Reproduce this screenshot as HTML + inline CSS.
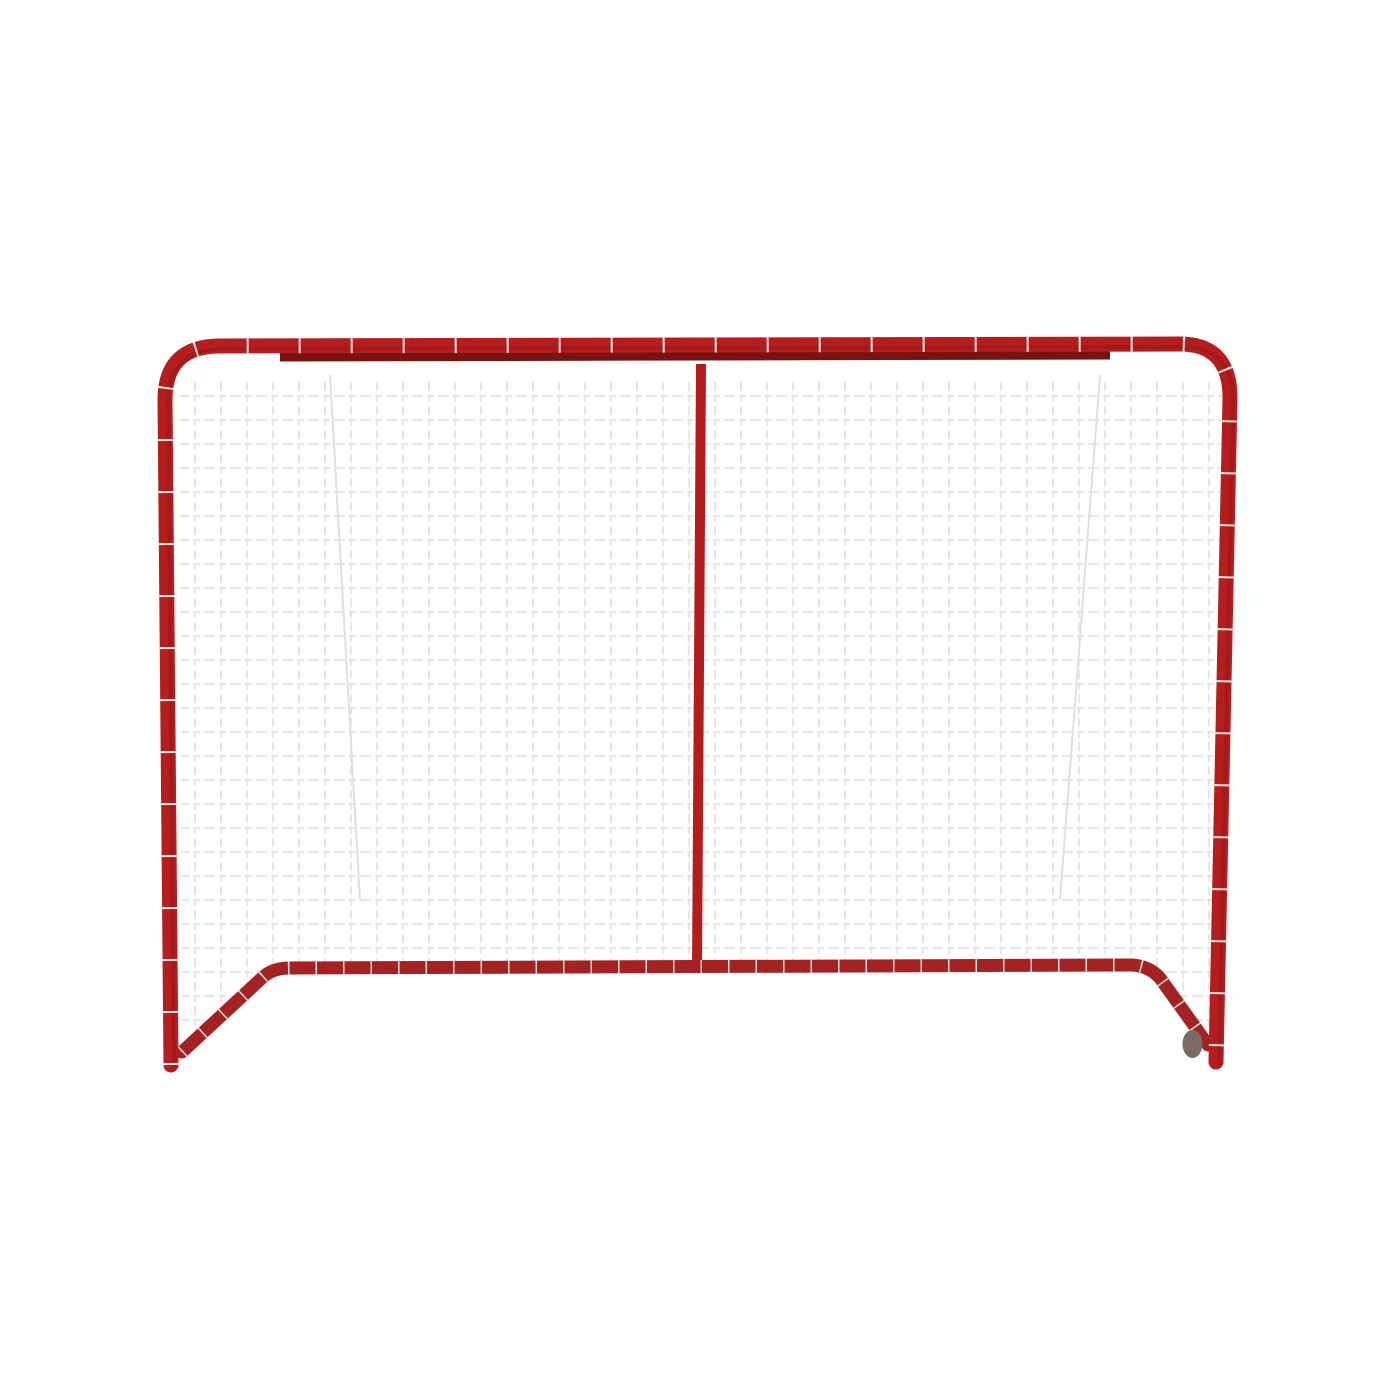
<!DOCTYPE html>
<html><head><style>html,body{margin:0;padding:0;background:#fff;width:1400px;height:1400px;overflow:hidden}</style></head>
<body>
<svg width="1400" height="1400" viewBox="0 0 1400 1400" xmlns="http://www.w3.org/2000/svg">
<defs>
<pattern id="net" width="26" height="24" patternUnits="userSpaceOnUse">
<path d="M0 12 H26 M13 0 V24" stroke="#d4d4d4" stroke-width="1.6" stroke-dasharray="7 4" fill="none"/>
</pattern>
</defs>
<!-- net -->
<path d="M180 380 L1222 380 L1218 1040 L1140 968 L265 968 L182 1040 Z" fill="url(#net)" opacity="0.75"/>
<path d="M330 375 L360 900 M1100 375 L1060 900" stroke="#e0e0e0" stroke-width="2" fill="none"/>
<!-- back top bar -->
<path d="M280 357 L1110 355" stroke="#7a1212" stroke-width="9" fill="none"/>
<!-- center post -->
<path d="M701 364 L697 966" stroke="#b51d1d" stroke-width="10" fill="none"/>
<!-- bottom back frame -->
<path d="M182 1052 L262 978 Q272 968 290 968 L1130 965 Q1148 965 1160 978 L1208 1045" stroke="#a52222" stroke-width="13" fill="none" stroke-linecap="round"/>
<path d="M182 1052 L262 978 Q272 968 290 968 L1130 965 Q1148 965 1160 978 L1208 1045" stroke="#f2e0dc" stroke-width="13" fill="none" stroke-dasharray="1.5 26"/>
<!-- main front frame -->
<path d="M171 1065 L165 400 Q165 346 220 346 L1180 344 Q1230 344 1230 398 L1216 1062" stroke="#b41e1e" stroke-width="15" fill="none" stroke-linecap="round"/>
<path d="M171 1065 L165 400 Q165 346 220 346 L1180 344 Q1230 344 1230 398 L1216 1062" stroke="#8e1010" stroke-width="4" fill="none" transform="translate(3,3)" opacity="0.35"/>
<path d="M171 1065 L165 400 Q165 346 220 346 L1180 344 Q1230 344 1230 398 L1216 1062" stroke="#f4e6e2" stroke-width="15" fill="none" stroke-dasharray="2 50"/>
<path d="M1192 1030 a10 14 0 1 0 1 0" fill="#7b6a66"/>
</svg>
</body></html>
